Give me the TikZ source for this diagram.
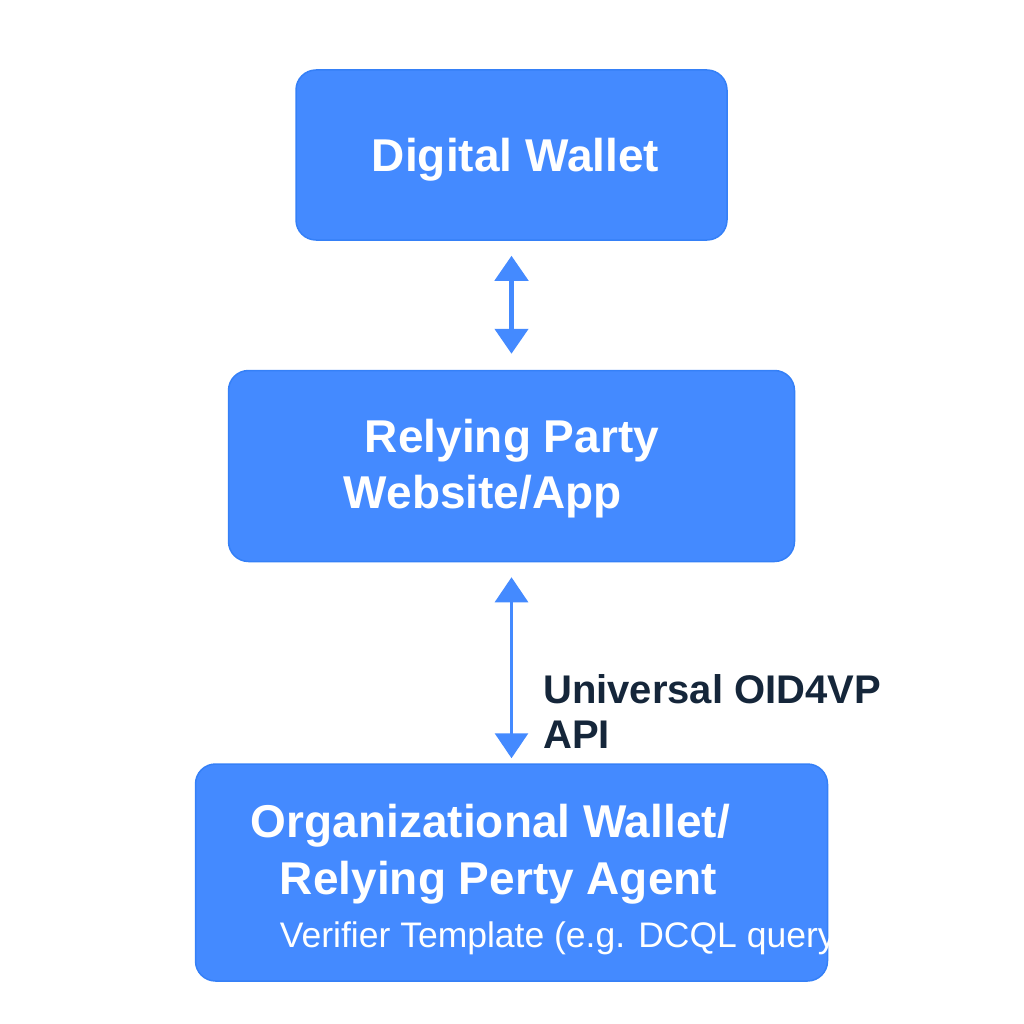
\documentclass[tikz,border=0pt]{standalone}
\usepackage{fontspec}
\setmainfont{Liberation Sans}
\usepackage{xcolor}
\usepackage{tikz}
\usetikzlibrary{positioning, arrows.meta}
\definecolor{boxblue}{HTML}{448AFF}
\definecolor{boxedge}{HTML}{3580F7}
\definecolor{labelnavy}{HTML}{15263A}
\tikzstyle{process} = [rectangle, rounded corners=20pt, text centered, text depth=0pt, draw=boxedge, line width=1.5pt, fill=boxblue, text=white, font=\fontsize{46}{57}\selectfont\bfseries]
\tikzstyle{boxtext} = [inner sep=0pt, text=white, font=\fontsize{46}{57}\selectfont\bfseries]
\tikzstyle{subtext} = [inner sep=0pt, text=white, font=\fontsize{35.5}{42}\selectfont]
\tikzstyle{apitext} = [inner sep=0pt, align=left, text=labelnavy, font=\fontsize{40}{45}\selectfont\bfseries]
\tikzstyle{arrow} = [draw=boxblue, line width=5pt, {Triangle[width=33pt,length=25pt]}-{Triangle[width=33pt,length=25pt]}]

\begin{document}
\begin{tikzpicture}[x=1pt, y=-1pt, node distance=129pt]
    \useasboundingbox (0,0) rectangle (1024,1024);

        % Cajas
        \node (wallet) [process, minimum width=431pt, minimum height=170pt] at (511.5,155) {\hspace*{8pt}Digital Wallet};
        \node (rpsite) [process, minimum width=566pt, minimum height=191pt, below=of wallet] {};
        \node (orgagent) [process, minimum width=632pt, minimum height=217pt, below=201pt of rpsite] {};

        % Textos de las cajas
        \node (rpline1) [boxtext, anchor=base west] at ([xshift=137pt, yshift=-83pt]rpsite.north west) {Relying Party};
        \node (rpline2) [boxtext, anchor=base west] at ([xshift=116pt, yshift=-139pt]rpsite.north west) {Website/App};
        \node (orgline1) [boxtext, anchor=base west] at ([xshift=56pt, yshift=-74pt]orgagent.north west) {Organizational Wallet/};
        \node (orgline2) [boxtext, anchor=base west] at ([xshift=85pt, yshift=-131pt]orgagent.north west) {Relying Perty Agent};
        \node (orgline3) [subtext, anchor=base west] at ([xshift=85pt, yshift=-184pt]orgagent.north west) {Verifier Template (e.g. DCQL query)};

        % Conexiones
        \draw [arrow, shorten <=15pt, shorten >=16pt] (wallet) -- (rpsite);
        \draw [arrow, line width=3pt, shorten <=15pt, shorten >=5pt] (rpsite) -- (orgagent);
        \node (apilabel) [apitext, anchor=north west] at ([xshift=31.5pt, yshift=-112pt]rpsite.south) {Universal OID4VP\\API};

    \end{tikzpicture}
\end{document}
